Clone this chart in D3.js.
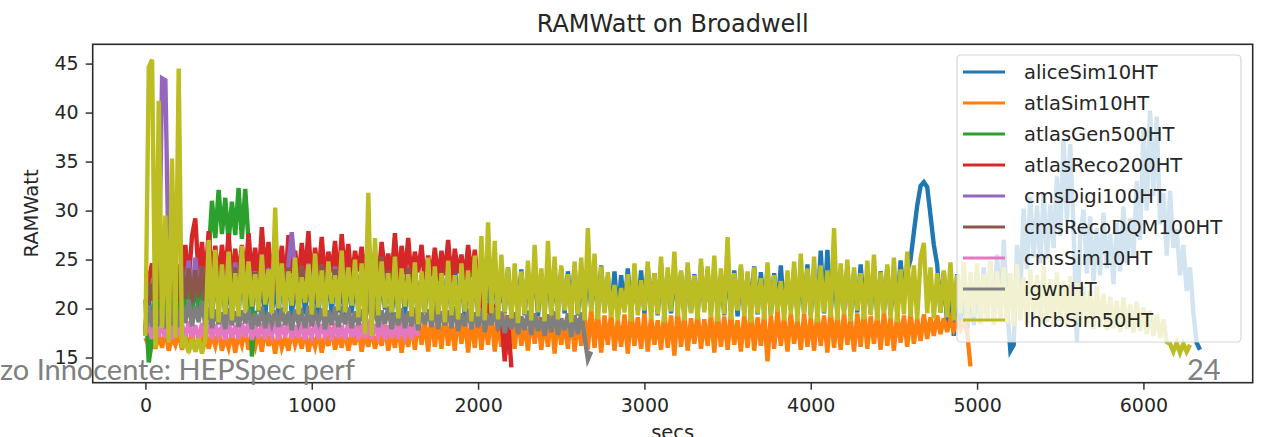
<!DOCTYPE html>
<html>
<head>
<meta charset="utf-8">
<script src="https://cdn.jsdelivr.net/npm/d3@7"></script>
<style>
  body { margin: 0; background: #fff; }
  svg text { font-family: "DejaVu Sans", sans-serif; }
</style>
</head>
<body>
<svg id="chart" width="1273" height="437"></svg>
<script>
// RAMWatt per workload, one sample every `step` seconds
const step = 20;

const seriesNames = ["aliceSim10HT", "atlaSim10HT", "atlasGen500HT", "atlasReco200HT",
  "cmsDigi100HT", "cmsRecoDQM100HT", "cmsSim10HT", "igwnHT", "lhcbSim50HT"];
const seriesColors = ["#1f77b4", "#ff7f0e", "#2ca02c", "#d62728",
  "#9467bd", "#8c564b", "#e377c2", "#7f7f7f", "#bcbd22"];

const aliceSim10HT = [
  17.5, 21.5, 16.8, 22, 17, 23.5, 16.6, 22.8, 17.8, 23.2,
  18.5, 23.9, 19.2, 22.6, 18.8, 24.1, 19.4, 23.3, 18.9, 24.4,
  19.3, 23.7, 19.8, 24.2, 19.1, 22.9, 19.6, 23.8, 19.4, 24.5,
  19.9, 23.1, 19.2, 24.3, 19.7, 23.5, 19, 24, 19.5, 22.8,
  19.3, 23.9, 19.8, 24.4, 19.1, 23.2, 19.6, 24.1, 19.4, 23.6,
  19.7, 22.9, 19.2, 24.2, 19.9, 23.4, 19.3, 24.6, 19.6, 23,
  19.1, 24, 19.5, 23.3, 19.8, 24.5, 19.2, 23.7, 19.6, 24.1,
  19.4, 23.5, 19.9, 24.3, 19.1, 23.1, 19.7, 24.4, 19.3, 23.8,
  19.6, 24.2, 19, 23.4, 19.5, 24.7, 19.8, 23.2, 19.2, 24,
  19.7, 23.6, 19.3, 24.5, 19.9, 23.3, 19.1, 24.1, 19.6, 23.9,
  19.4, 24.3, 19.8, 23.5, 19.2, 24.6, 19.7, 23.1, 19.5, 24.2,
  19.6, 23.4, 19.9, 24, 19.3, 23.7, 20.1, 24.4, 19.2, 23.6,
  19.7, 24.5, 19.4, 23.2, 19.8, 24.1, 19.5, 23.8, 19.9, 24.3,
  19.3, 23.5, 19.6, 24.2, 20, 23.9, 19.4, 24.4, 19.7, 23.3,
  19.5, 23.8, 19.2, 23.4, 19.9, 24.1, 19.6, 23.2, 19.8, 23.9,
  19.4, 24.3, 19.7, 23.6, 19.3, 24.5, 19.9, 23.4, 19.5, 24,
  19.8, 23.7, 19.2, 24.2, 19.6, 23.5, 19.4, 24.4, 19.9, 23.8,
  19.5, 24.1, 19.8, 23.3, 19.3, 24.6, 19.7, 23.9, 19.2, 24.2,
  19.6, 23.5, 19.9, 24.3, 19.4, 23.7, 19.8, 24, 19.3, 23.6,
  19.7, 24.4, 19.5, 23.2, 19.9, 24.1, 19.4, 23.8, 19.6, 24.5,
  19.3, 23.9, 19.8, 25.9, 19.5, 26, 19.7, 24.2, 19.4, 23.7,
  19.8, 24.3, 19.2, 23.6, 19.6, 24.5, 19.9, 23.4, 19.5, 24.1,
  19.4, 23.8, 19.7, 24.2, 19.3, 23.5, 20.2, 24.9, 21, 23.8,
  25, 27.8, 30.5, 32.5, 32.9, 32.4, 29.5, 26.5, 24.5, 19.6,
  23.8, 18.4, 22.9, 17.2, 23.5, 18.1, 22.4, 17.5, 23.1, 18.3,
  23.6, 18.5, 24.2, 19, 24.8, 18.7, 25.5, 19.4, 27, 20.2,
  15.7, 16.3, 26.5, 21.5, 30.2, 24, 31.4, 25.2, 30.5, 24.6,
  31.8, 25.1, 30.6, 26.2, 33.5, 27.4, 37.3, 29, 36.8, 28.2,
  16.6, 27.5, 30.1, 23.6, 29.4, 22.8, 28.2, 23.4, 29.8, 24.1,
  27.6, 22.5, 28.9, 23.8, 30.4, 24.6, 29.2, 25.3, 33, 27,
  38.5, 30, 40.2, 31.5, 39.6, 28.6, 31.8, 25.4, 32, 26.2,
  28.1, 23.4, 26.5, 21.8, 24.2, 19.6, 16.5, 15.8
];

const atlaSim10HT = [
  17, 16.2, 17.6, 15.9, 17.3, 16, 17.8, 15.7, 17.1, 16.3,
  17.5, 15.8, 17.2, 16.1, 17.7, 15.6, 17, 16.4, 17.9, 15.9,
  17.3, 16.2, 17.8, 15.7, 17.1, 16, 17.6, 15.5, 17.4, 16.3,
  17.9, 15.8, 17.2, 16.1, 17.7, 15.6, 18, 16.2, 17.3, 15.4,
  17.6, 16, 17.1, 15.7, 17.8, 16.3, 17.4, 15.9, 17.9, 15.6,
  17.2, 16.1, 17.7, 15.5, 17.3, 16.2, 18.1, 15.8, 17.5, 16,
  17.9, 15.7, 17.4, 16.3, 18.2, 15.6, 17.6, 16.1, 18, 15.9,
  17.5, 16.2, 18.3, 15.7, 17.8, 16, 18.4, 15.5, 17.7, 16.1,
  18.6, 15.8, 19.1, 16.3, 18.8, 15.6, 19.4, 16.1, 18.9, 15.9,
  19.5, 16.2, 18.7, 15.7, 19.8, 16.4, 19.2, 15.5, 18.9, 16,
  19.6, 15.8, 19, 16.3, 19.9, 15.6, 18.8, 16.1, 19.4, 15.3,
  19.1, 15.9, 19.7, 16.2, 18.6, 15.7, 19.5, 16.4, 19.2, 15.8,
  18.9, 16.1, 19.6, 15.4, 19.3, 16.3, 18.7, 15.9, 19.8, 15.6,
  19, 16.2, 19.5, 15.8, 20.1, 16, 19.7, 15.5, 19.3, 16.3,
  19.6, 15.7, 18.9, 16.1, 19.4, 15.4, 19.8, 16.2, 19.1, 15.9,
  19.5, 15.6, 19.2, 16.3, 18.8, 15.8, 19.7, 16, 19.3, 15.2,
  19.9, 16.1, 19.4, 15.7, 19, 16.4, 19.6, 15.9, 18.9, 16.2,
  19.5, 15.5, 19.8, 16.1, 19.2, 15.8, 19.6, 16.3, 18.8, 15.6,
  19.4, 16, 19.7, 15.7, 19.1, 16.2, 19.5, 14.6, 19.3, 15.9,
  19.8, 16.2, 19.2, 15.6, 19.6, 16.4, 18.9, 15.8, 19.5, 16.1,
  19.1, 15.7, 19.7, 16.2, 19.3, 15.5, 19.9, 16, 19.4, 15.8,
  19.6, 16.3, 19, 15.6, 19.5, 16.1, 19.8, 15.9, 19.2, 16.4,
  19.4, 15.8, 19.7, 16.2, 19.1, 15.7, 19.5, 16.5, 19.3, 16.1,
  19.6, 16.4, 19, 16.7, 19.4, 16.9, 19.1, 17.2, 19.3, 17.4,
  19, 17.6, 18.9, 17.8, 18.7, 17.9, 18.8, 17.7, 14.1
];

const atlasGen500HT = [
  20.9, 14.5, 16.8, 21.5, 19.5, 23.6, 19.8, 24.2, 19.3, 23.5,
  19.7, 24, 19.4, 23.3, 19.9, 24.5, 19.6, 23.8, 20.2, 25.4,
  31, 27.2, 32.1, 27.6, 31.3, 26.8, 30.9, 27.5, 32.3, 27.1,
  32.2, 26.8, 15.1, 19.8
];

const atlasReco200HT = [
  17.2, 23, 24.6, 21.5, 24.8, 22, 24.2, 21.8, 25, 22.3,
  24.5, 22.1, 26.5, 22.6, 27.4, 29.2, 23.1, 26.8, 22.4, 27.9,
  23, 26.4, 22.8, 26.5, 23.4, 27.7, 22.6, 26.1, 23.2, 26.5,
  22.9, 27.7, 23.3, 26.2, 22.7, 28.3, 23.5, 26.8, 22.5, 27.1,
  23.1, 26.4, 22.4, 27.5, 23.6, 25.9, 22.8, 26.7, 23.3, 27.9,
  22.6, 26.2, 23.4, 27.3, 22.9, 25.8, 23.7, 26.9, 22.5, 27.6,
  23.5, 26.6, 22.7, 25.9, 23.8, 26.3, 22.9, 27.1, 23.4, 25.7,
  22.8, 26.8, 23.6, 25.6, 23.1, 27.7, 22.7, 26.4, 23.5, 27.2,
  22.9, 25.8, 23.7, 26.5, 22.6, 25.4, 23.3, 26.2, 22.8, 25.9,
  23.4, 27, 22.7, 26.1, 23.6, 25.5, 22.9, 26.5, 23.2, 26,
  22.1, 20.8, 19.4, 20.5, 18.7, 19.8, 18.3, 19.2, 14.6, 18.9, 14.0
];

const cmsDigi100HT = [
  17.8, 22.4, 21.2, 24.6, 22, 43.5, 43.3, 23.8, 21.6, 24.4,
  21.1, 24.2, 21.5, 24.9, 21.3, 25.2, 21.7, 24.3, 21, 24.1,
  21.4, 24.5, 21.1, 23.9, 21.6, 24.2, 21.2, 24.7, 21.5, 24,
  21.3, 24.4, 21.7, 23.8, 21, 24.6, 21.4, 24.1, 21.2, 24.3,
  21.6, 24, 21.1, 24.5, 27.8, 23.9, 21.4, 24.2, 21.3, 24.6,
  21.5, 24.1, 21.2, 24.4, 21.7, 23.8, 21.3, 24.3, 21, 24,
  21.4, 24.2, 21.1, 23.9, 21.5, 22
];

const cmsRecoDQM100HT = [
  18, 22.5, 20.8, 24.9, 21, 25.3, 20.6, 24.6, 21.2, 25,
  20.7, 24.3, 21, 24.1, 20.6, 23.9, 21.1, 24.3, 20.8, 23.7,
  20.9, 23.8, 21.3, 24, 20.7, 23.5, 21.1, 24.2, 20.8, 23.6,
  21.2, 24.1, 20.6, 23.7, 21, 24.3, 20.9, 23.4, 21.3, 24,
  20.8, 23.8, 21.1, 24.2, 20.7, 23.6, 21.2, 24.4, 20.9, 23.5,
  21, 24.1, 20.6, 24.5, 21.3, 23.7, 20.8, 24, 21.1, 23.9,
  20.7, 24.3, 21.2, 23.6, 20.9, 24.2, 21, 23.8, 20.6, 24.4,
  21.1, 25.3, 20.8, 23.9, 21.3, 24.1, 20.7, 23.5, 21, 24.2,
  20.9, 23.8, 21.2
];

const cmsSim10HT = [
  17.6, 18.3, 16.9, 18.5, 17.1, 18.6, 17, 20.6, 16.8, 20.2,
  17.2, 18.4, 16.9, 18.7, 17.1, 18.3, 16.8, 18.5, 17, 18.6,
  16.9, 18.4, 17.2, 18.2, 16.8, 18.6, 17, 18.3, 16.9, 18.5,
  17.1, 18.7, 16.8, 18.3, 17, 18.5, 16.9, 18.2, 17.2, 18.6,
  16.8, 18.4, 17.1, 18.7, 16.9, 18.3, 17, 18.5, 16.8, 18.2,
  17.1, 18.6, 16.9, 18.4, 17.2, 18.2, 16.8, 18.5, 17, 18.3,
  16.9, 18.6, 17.1, 18.3, 16.8, 18.5, 17, 18.2, 16.9, 18.4,
  17.2, 18.6, 16.8, 18.3, 17, 18.5, 16.9, 18.2, 17.1, 18.4,
  16.9, 18.3, 17.2
];

const igwnHT = [
  17.5, 20.3, 18.2, 20.6, 18.4, 20.2, 18, 20.7, 18.3, 20.4,
  18.1, 20.5, 18.5, 20.9, 18.2, 20.3, 18.6, 20.8, 18.3, 20.1,
  18, 19.9, 18.4, 19.6, 17.9, 20, 18.3, 19.7, 18.1, 19.8,
  18.5, 19.9, 17.9, 19.5, 18.2, 20.2, 18, 19.6, 18.4, 19.8,
  18.1, 20.1, 18.3, 19.7, 17.8, 19.9, 18.5, 19.5, 18, 20.3,
  18.2, 19.6, 18.6, 20, 17.9, 19.8, 18.3, 20.2, 18.1, 19.5,
  18.4, 20.1, 18, 19.7, 18.3, 19.9, 18.2, 22.2, 18.5, 20.4,
  18.1, 19.8, 18.4, 20.2, 17.9, 19.6, 18.3, 20, 18, 19.7,
  18.2, 20.1, 17.8, 19.6, 18.4, 19.9, 18.1, 20.3, 17.9, 19.7,
  18.3, 19.8, 18, 20.2, 17.7, 19.5, 18.2, 20, 17.9, 19.6,
  18.1, 19.9, 17.6, 19.4, 18.3, 20.1, 17.8, 19.7, 17.5, 19.3,
  17.9, 19.6, 17.4, 19.2, 17.8, 19.8, 17.3, 19.5, 17.7, 19.1,
  17.2, 19.4, 17.6, 19.7, 17.3, 19, 17.8, 19.5, 17.1, 19.3,
  17.4, 19.6, 17.1, 14.8, 15.6
];

const lhcbSim50HT = [
  17.2, 44.6, 45.4, 16, 41.2, 18, 29.5, 16.5, 35.3, 17,
  44.5, 16, 16.8, 15.5, 16.9, 15.6, 17, 15.4, 16.8, 27,
  19, 26, 18.6, 24.5, 19.4, 25.8, 18.8, 23.6, 19.2, 26.4,
  19.6, 24.8, 20.2, 23.5, 19.8, 25.5, 20.4, 24, 19.5, 30.3,
  20, 24.6, 19.6, 23.8, 20.3, 25.2, 19.5, 23.2, 20.6, 24.5,
  19.4, 25.6, 20.1, 23.9, 19.2, 24.8, 20.5, 23.4, 19.8, 25.9,
  19.6, 24.2, 20.3, 25, 19.1, 24.6, 17.4, 31.8, 17.2, 27.2,
  19.3, 24.8, 20.1, 23.6, 19.6, 25.3, 19, 24.1, 20.2, 23.5,
  19.2, 24.7, 18.4, 23.8, 19.6, 25.2, 18.8, 24.3, 19.4, 23.6,
  18.6, 24.9, 19.3, 23.4, 18.9, 24.6, 19.7, 23.9, 18.7, 25.4,
  19.2, 27.4, 18.8, 28.8, 19.5, 26.9, 18.9, 25.5, 19.6, 24.2,
  19, 24.6, 18.5, 23.8, 19.4, 24.9, 18.8, 26.5, 19.6, 24.1,
  18.7, 26.9, 19.3, 25.3, 18.9, 24.4, 19.8, 23.5, 18.6, 24.8,
  19.4, 25.2, 18.8, 28.2, 19.7, 25.6, 18.9, 24.3, 19.5, 23.7,
  19.1, 22.4, 18.8, 22.1, 19.6, 23.5, 18.7, 24.6, 19.3, 22.9,
  19.8, 24.8, 18.9, 23.6, 19.4, 25.3, 18.6, 24.2, 19.7, 25.8,
  19.2, 23.9, 18.8, 24.7, 19.5, 23.4, 18.9, 25.1, 19.6, 24.3,
  19.1, 25.4, 18.7, 24.1, 19.4, 27.3, 18.9, 23.6, 19.8, 24.5,
  19.2, 23.8, 18.6, 24.2, 19.5, 23.1, 18.9, 24.7, 19.3, 23.4,
  19.7, 22.8, 18.8, 23.9, 19.4, 24.8, 18.7, 25.6, 19.5, 24.1,
  19, 25.3, 18.6, 24.4, 19.6, 23.9, 19.1, 28.2, 18.8, 24.6,
  19.4, 25, 18.7, 24.2, 19.8, 23.6, 18.9, 24.9, 19.3, 25.5,
  18.8, 23.7, 19.5, 24.5, 19, 25.2, 18.6, 24, 19.4, 25.8,
  19.2, 24.4, 18.9, 25.1, 26.7, 19.5, 24.2, 19, 23.6, 19.6,
  23.9, 19.1, 24.7, 18.8, 23.4, 19.5, 24.8, 18.6, 23.7, 19.2,
  24.6, 18.4, 23.5, 19, 24.9, 18.3, 23.8, 18.9, 24.2, 18.5,
  23.6, 18.2, 24.5, 18.8, 23.2, 18.4, 24, 18.9, 23.4, 18.3,
  24.3, 18.6, 23, 18.1, 23.7, 18.7, 22.8, 18.2, 23.3, 18.5,
  22.6, 18.1, 22.2, 18.4, 21.8, 17.9, 22.3, 18.2, 21.5, 17.8,
  21.2, 18, 20.8, 17.6, 21.1, 17.9, 20.4, 17.5, 20.7, 17.7,
  20.1, 17.4, 19.8, 17.2, 19.4, 17, 18.9, 16.6, 16.4, 15.6,
  16.5, 15.5, 16.4, 15.6, 16.3
];

const xTicks = [0, 1000, 2000, 3000, 4000, 5000, 6000];
const yTicks = [15, 20, 25, 30, 35, 40, 45];

const allSeries = [aliceSim10HT, atlaSim10HT, atlasGen500HT, atlasReco200HT,
  cmsDigi100HT, cmsRecoDQM100HT, cmsSim10HT, igwnHT, lhcbSim50HT];

// plot box in page pixels
const plot = { left: 92.7, right: 1252.7, top: 44.3, bottom: 382.7 };

const svg = d3.select("#chart");

// domains like matplotlib: data extent with 5% margin
const tMax = d3.max(allSeries, s => (s.length - 1) * step);
const vMin = d3.min(allSeries, s => d3.min(s));
const vMax = d3.max(allSeries, s => d3.max(s));
const xPad = tMax * 0.05, yPad = (vMax - vMin) * 0.05;

const x = d3.scaleLinear()
  .domain([0 - xPad, tMax + xPad])
  .range([plot.left, plot.right]);

const y = d3.scaleLinear()
  .domain([vMin - yPad, vMax + yPad])
  .range([plot.bottom, plot.top]);

// clip lines to the axes box
svg.append("clipPath").attr("id", "clip")
  .append("rect")
  .attr("x", plot.left).attr("y", plot.top)
  .attr("width", plot.right - plot.left)
  .attr("height", plot.bottom - plot.top);

const line = d3.line()
  .x((d, i) => x(i * step))
  .y(d => y(d));

// thick strokes so the dense sampling reads as a filled band, like the original
svg.append("g")
  .attr("clip-path", "url(#clip)")
  .selectAll("path")
  .data(allSeries)
  .enter().append("path")
  .attr("d", d => line(d))
  .attr("fill", "none")
  .attr("stroke", (d, i) => seriesColors[i])
  .attr("stroke-width", 4.4)
  .attr("stroke-linejoin", "miter");

// axes
const xAxis = svg.append("g")
  .attr("transform", "translate(0," + plot.bottom + ")")
  .call(d3.axisBottom(x).tickValues(xTicks).tickSize(7).tickPadding(9).tickFormat(d3.format("d")));

const yAxis = svg.append("g")
  .attr("transform", "translate(" + plot.left + ",0)")
  .call(d3.axisLeft(y).tickValues(yTicks).tickSize(7).tickPadding(7).tickFormat(d3.format("d")));

[xAxis, yAxis].forEach(function (g) {
  g.select(".domain").remove();
  g.selectAll(".tick line").attr("stroke", "#333").attr("stroke-width", 1.5);
  g.selectAll(".tick text")
    .attr("fill", "#262626")
    .style("font-size", "19px")
    .style("font-family", "DejaVu Sans");
});

// frame
svg.append("rect")
  .attr("x", plot.left).attr("y", plot.top)
  .attr("width", plot.right - plot.left)
  .attr("height", plot.bottom - plot.top)
  .attr("fill", "none")
  .attr("stroke", "#2a2a2a")
  .attr("stroke-width", 1.6);

// title and axis labels
svg.append("text")
  .attr("x", (plot.left + plot.right) / 2)
  .attr("y", 32)
  .attr("text-anchor", "middle")
  .attr("fill", "#262626")
  .style("font-size", "24px")
  .text("RAMWatt on Broadwell");

svg.append("text")
  .attr("transform", "translate(38," + (plot.top + plot.bottom) / 2 + ") rotate(-90)")
  .attr("text-anchor", "middle")
  .attr("fill", "#262626")
  .style("font-size", "19.5px")
  .text("RAMWatt");

svg.append("text")
  .attr("x", (plot.left + plot.right) / 2)
  .attr("y", 439)
  .attr("text-anchor", "middle")
  .attr("fill", "#262626")
  .style("font-size", "19.5px")
  .text("secs");

// legend (semi transparent like matplotlib)
const legend = svg.append("g");
legend.append("rect")
  .attr("x", 957).attr("y", 55)
  .attr("width", 284).attr("height", 287)
  .attr("rx", 4)
  .attr("fill", "#fff").attr("fill-opacity", 0.8)
  .attr("stroke", "#ccc").attr("stroke-opacity", 0.8)
  .attr("stroke-width", 1.2);

const items = legend.selectAll(".item")
  .data(seriesNames)
  .enter().append("g")
  .attr("class", "item")
  .attr("transform", (d, i) => "translate(0," + (72 + i * 31) + ")");

items.append("line")
  .attr("x1", 963).attr("x2", 1005)
  .attr("stroke", (d, i) => seriesColors[i])
  .attr("stroke-width", 2.9);

items.append("text")
  .attr("x", 1024)
  .attr("dy", "0.35em")
  .attr("fill", "#262626")
  .style("font-size", "19.5px")
  .text(d => d);

// slide footer overlapping the picture
svg.append("text")
  .attr("x", 0).attr("y", 380)
  .attr("fill", "#7f7f7f")
  .attr("textLength", 355)
  .attr("lengthAdjust", "spacingAndGlyphs")
  .style("font-family", "Lato, 'Liberation Sans', sans-serif")
  .style("font-size", "29px")
  .text("zo Innocente: HEPSpec perf");

svg.append("text")
  .attr("x", 1187).attr("y", 380)
  .attr("fill", "#7f7f7f")
  .style("font-family", "Lato, 'Liberation Sans', sans-serif")
  .style("font-size", "29px")
  .text("24");
</script>
</body>
</html>
